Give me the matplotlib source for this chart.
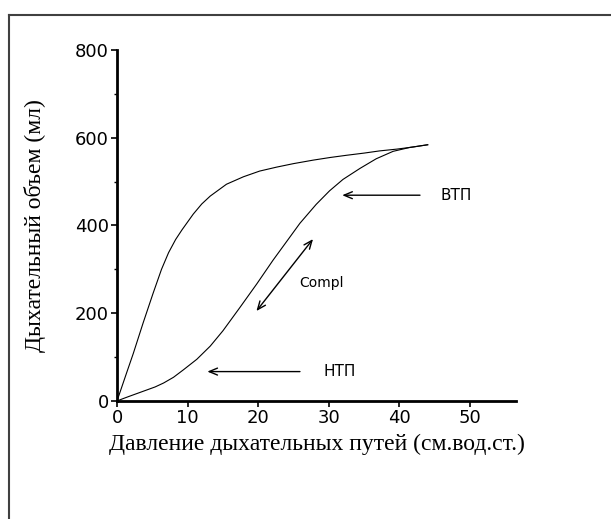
import matplotlib
matplotlib.use('Agg')
import matplotlib.pyplot as plt
from matplotlib.lines import Line2D

# Верхняя ветвь (выдох) петли давление-объем
upper_p = [0, 0.7, 1.4, 2.3, 3.7, 5.1, 6.3, 7.3, 8.3, 9.2, 10.8, 12.0, 13.2, 15.5, 17.9, 20.2,
           22.6, 25.0, 27.8, 30.2, 32.5, 35.0, 37.2, 39.6, 42.0, 44.0]
upper_v = [0, 33, 66, 108, 178, 245, 300, 338, 368, 390, 426, 449, 467, 494, 511, 524,
           533, 541, 549, 555, 560, 565, 570, 574, 579, 584]
# Нижняя ветвь (вдох)
lower_p = [0, 0.8, 1.8, 3.0, 4.2, 5.4, 6.6, 8.0, 9.4, 11.3, 13.2, 15.0, 17.4, 19.8, 22.1, 24.5,
           25.9, 28.2, 30.1, 32.0, 34.4, 36.7, 39.1, 41.5, 44.0]
lower_v = [0, 5, 11, 18, 25, 32, 41, 54, 71, 95, 125, 160, 213, 267, 321, 374,
           405, 448, 479, 505, 530, 552, 569, 578, 584]

x_ticks = [0, 10, 20, 30, 40, 50]
y_ticks = [0, 200, 400, 600, 800]
y_minor = [100, 300, 500, 700]

fig = plt.figure(figsize=(6.11, 5.19), dpi=100)
ax = fig.add_axes([0.1915, 0.2274, 0.653, 0.6763])

ax.plot(upper_p, upper_v, color='black', lw=0.8)
ax.plot(lower_p, lower_v, color='black', lw=0.8)

ax.set_xlim(0, 56.5)
ax.set_ylim(0, 800)
ax.set_xticks(x_ticks)
ax.set_yticks(y_ticks)
ax.set_yticks(y_minor, minor=True)
for s in ['top', 'right']:
    ax.spines[s].set_visible(False)
for s in ['left', 'bottom']:
    ax.spines[s].set_linewidth(2)
ax.tick_params(axis='both', which='major', direction='out', length=4, width=1.2,
               labelsize=13, pad=2)
ax.tick_params(axis='y', which='minor', length=2, width=1)

# стрелки с подписями
arr = dict(arrowstyle='->,head_length=0.6,head_width=0.25', color='black', lw=1)
ax.annotate('', xy=(31.5, 469), xytext=(43.3, 469), arrowprops=arr)
ax.text(45.8, 469, 'ВТП', fontsize=11, va='center', ha='left')
ax.annotate('', xy=(12.4, 67), xytext=(26.3, 67), arrowprops=arr)
ax.text(29.3, 67, 'НТП', fontsize=11, va='center', ha='left')
ax.annotate('', xy=(19.5, 200), xytext=(28.0, 374),
            arrowprops=dict(arrowstyle='<->,head_length=0.6,head_width=0.25',
                            color='black', lw=1))
ax.text(25.8, 268, 'Compl', fontsize=10, va='center', ha='left')

ax.set_xlabel('Давление дыхательных путей (см.вод.ст.)', family='Liberation Serif',
              fontsize=17, labelpad=5)
ax.set_ylabel('Дыхательный объем (мл)', family='Liberation Serif',
              fontsize=17, labelpad=21)

# рамка рисунка (видна только слева и сверху)
fig.add_artist(Line2D([9 / 611, 9 / 611], [0, 1 - 15 / 519], transform=fig.transFigure,
                      color='#404040', lw=1.5))
fig.add_artist(Line2D([9 / 611, 1], [1 - 15 / 519, 1 - 15 / 519], transform=fig.transFigure,
                      color='#404040', lw=1.5))

fig.savefig('out.png', dpi=100)
